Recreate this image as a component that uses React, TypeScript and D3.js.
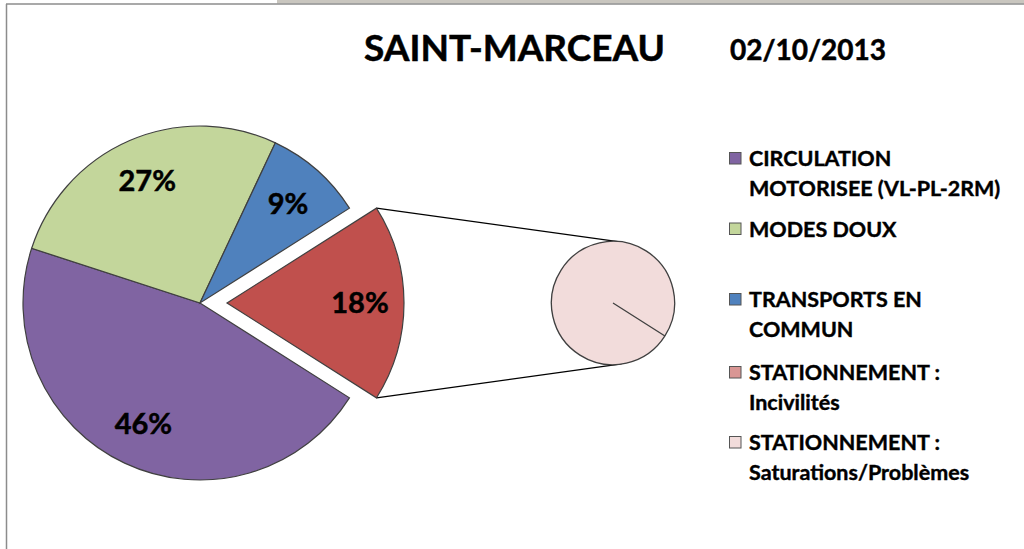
import React from "react";
import * as d3 from "d3";

const width = 1024;
const height = 549;

// data
const categories = [
    "CIRCULATION MOTORISEE (VL-PL-2RM)",
    "MODES DOUX",
    "TRANSPORTS EN COMMUN",
    "STATIONNEMENT : Incivilités",
    "STATIONNEMENT : Saturations/Problèmes",
];
const values = [46, 27, 9, 0, 18];
const legendLines = [
    ["CIRCULATION", "MOTORISEE (VL-PL-2RM)"],
    ["MODES DOUX"],
    ["TRANSPORTS EN", "COMMUN"],
    ["STATIONNEMENT :", "Incivilités"],
    ["STATIONNEMENT :", "Saturations/Problèmes"],
];
const legendBaselines = [166, 236.5, 307, 380, 450];
const colors = ["#8064a2", "#c3d69b", "#4f81bd", "#d99694", "#f2dcdb"];
const otherColor = "#c0504d";
const splitIndex = 3; // the last two go into the second pie

const font = "Lato, 'Open Sans', sans-serif";

// layout
const mainX = 200;
const mainY = 303;
const mainR = 177;
const explode = 27;
const subX = 613;
const subY = 303;
const subR = 61.5;

function App() {
    const total = d3.sum(values);
    const otherValue = d3.sum(values.slice(splitIndex));
    const mainValues = [...values.slice(0, splitIndex), otherValue];
    const mainColors = [...colors.slice(0, splitIndex), otherColor];

    // "other" slice centred on the right side, as Excel does it
    const start = Math.PI / 2 + (otherValue / total) * Math.PI;

    const mainArcs = d3.pie<number>().sort(null).startAngle(start).endAngle(start + 2 * Math.PI)(mainValues);
    const arcGen = d3.arc<d3.PieArcDatum<number>>().innerRadius(0).outerRadius(mainR);
    const labelArc = d3.arc<d3.PieArcDatum<number>>().innerRadius(133).outerRadius(133);

    const subValues = values.slice(splitIndex);
    const subArcs = d3.pie<number>().sort(null).startAngle(start).endAngle(start + 2 * Math.PI)(subValues);
    const subArcGen = d3.arc<d3.PieArcDatum<number>>().innerRadius(0).outerRadius(subR);

    const other = mainArcs[mainArcs.length - 1];
    const mid = (other.startAngle + other.endAngle) / 2;
    const ox = Math.sin(mid) * explode;
    const oy = -Math.cos(mid) * explode;

    const corner = (a: number) => [mainX + ox + Math.sin(a) * mainR, mainY + oy - Math.cos(a) * mainR];
    const c1 = corner(other.startAngle);
    const c2 = corner(other.endAngle);
    const t = (8 * Math.PI) / 180;
    const s1 = [subX + Math.sin(t) * subR, subY - Math.cos(t) * subR];
    const s2 = [subX + Math.sin(t) * subR, subY + Math.cos(t) * subR];

    const heavy = {fontFamily: font, fontWeight: 700, stroke: "#000", strokeWidth: 0.5} as const;

    return (
        <svg width={width} height={height} style={{position: "absolute", left: 0, top: 0, background: "#fff"}}>
            <rect x={277} y={0} width={width - 277} height={3.5} fill="#c9c6bf"/>
            <line x1={6} y1={4} x2={width} y2={4} stroke="#8c8c8c" strokeWidth={1.5}/>
            <line x1={6.5} y1={4} x2={6.5} y2={height} stroke="#8c8c8c" strokeWidth={1.5}/>

            <text x={364} y={61} {...heavy} fontSize={37}>SAINT-MARCEAU</text>
            <text x={730} y={60} {...heavy} fontSize={28}>02/10/2013</text>

            {/* connector lines */}
            <line x1={c1[0]} y1={c1[1]} x2={s1[0]} y2={s1[1]} stroke="#000" strokeWidth={1.3}/>
            <line x1={c2[0]} y1={c2[1]} x2={s2[0]} y2={s2[1]} stroke="#000" strokeWidth={1.3}/>

            <g transform={`translate(${mainX},${mainY})`}>
                {mainArcs.map((d, i) => {
                    const isOther = i === mainArcs.length - 1;
                    return (
                        <path key={i} d={arcGen(d) || ""} fill={mainColors[i]} stroke="#404040" strokeWidth={1.2}
                              transform={isOther ? `translate(${ox},${oy})` : undefined}/>
                    );
                })}
                {mainArcs.map((d, i) => {
                    const isOther = i === mainArcs.length - 1;
                    const [lx, ly] = labelArc.centroid(d);
                    return (
                        <text key={"l" + i} x={lx + (isOther ? ox : 0)} y={ly + (isOther ? oy : 0)} dy="0.36em"
                              textAnchor="middle" {...heavy} fontSize={29}>
                            {Math.round((d.value / total) * 100)}%
                        </text>
                    );
                })}
            </g>

            <g transform={`translate(${subX},${subY})`}>
                {subArcs.slice().reverse().map((d, i) => (
                    <path key={i} d={subArcGen(d) || ""} fill={colors[splitIndex + d.index]} stroke="#404040"
                          strokeWidth={1.3}/>
                ))}
            </g>

            <g>
                {categories.map((c, i) => (
                    <g key={c}>
                        <rect x={729.5} y={legendBaselines[i] - 13.5} width={11.5} height={11.5} fill={colors[i]}
                              stroke="#555" strokeWidth={1}/>
                        {legendLines[i].map((ln, j) => (
                            <text key={j} x={749} y={legendBaselines[i] + j * 29.5} {...heavy}
                                  strokeWidth={0.4} fontSize={21.5}>{ln}</text>
                        ))}
                    </g>
                ))}
            </g>
        </svg>
    );
}

export default App;
